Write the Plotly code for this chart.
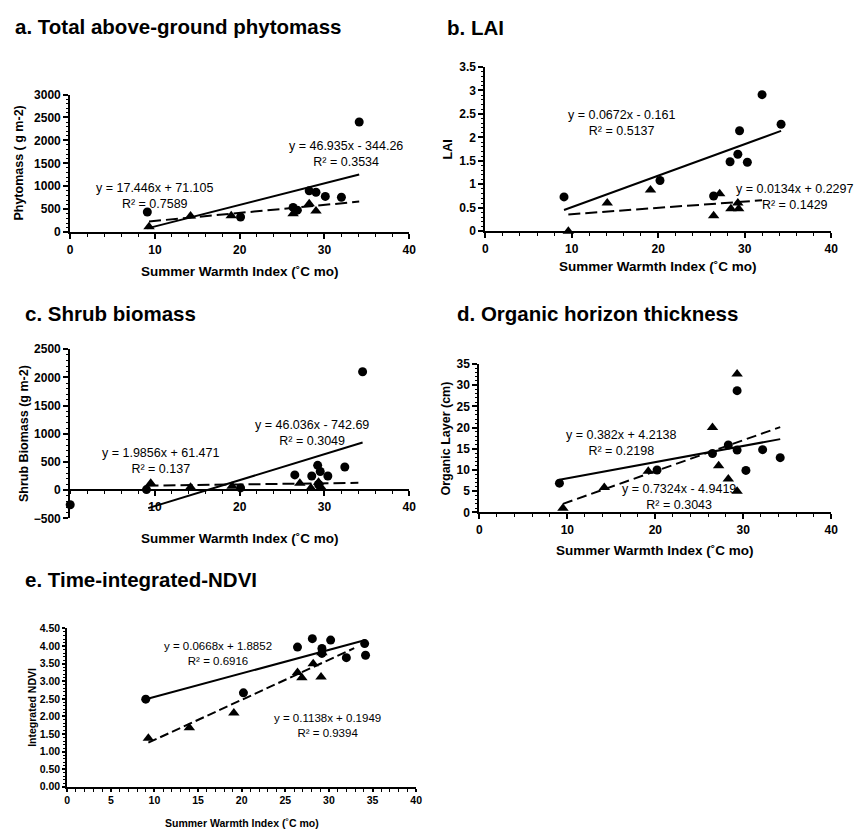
import numpy as np
import plotly.graph_objects as go

# ---------------- data ----------------
# a. Total above-ground phytomass
a_circ_x = [9.1, 20.1, 26.3, 26.8, 28.2, 29.0, 30.1, 32.0, 34.1]
a_circ_y = [440, 330, 540, 480, 900, 870, 780, 760, 2400]
a_tri_x = [9.3, 14.2, 19.0, 26.3, 28.2, 29.0]
a_tri_y = [120, 350, 360, 400, 620, 460]
a_fit_circ = (46.935, -344.26, 9.1, 34.1)
a_fit_tri = (17.446, 71.105, 9.3, 34.1)

# b. LAI
b_circ_x = [9.1, 20.2, 26.4, 28.3, 29.2, 29.4, 30.3, 32.0, 34.2]
b_circ_y = [0.73, 1.08, 0.75, 1.48, 1.64, 2.14, 1.47, 2.91, 2.28]
b_tri_x = [9.6, 14.1, 19.1, 26.4, 27.1, 28.4, 29.2, 29.3]
b_tri_y = [0.0, 0.60, 0.88, 0.33, 0.80, 0.48, 0.60, 0.48]
b_fit_circ = (0.0672, -0.161, 9.1, 34.2)
b_fit_tri = (0.0134, 0.2297, 9.6, 32.0)

# c. Shrub biomass
c_circ_x = [0.0, 9.0, 20.1, 26.5, 28.5, 29.2, 29.5, 29.3, 30.4, 32.4, 34.5]
c_circ_y = [-260, 10, 40, 270, 250, 440, 330, 100, 250, 410, 2100]
c_tri_x = [9.5, 14.2, 19.1, 27.1, 28.4, 29.3, 29.6]
c_tri_y = [120, 50, 70, 120, 40, 140, 50]
c_fit_circ = (46.036, -742.69, 9.2, 34.5)
c_fit_tri = (1.9856, 61.471, 9.0, 34.0)

# d. Organic horizon thickness
d_circ_x = [9.1, 20.2, 26.5, 28.3, 29.3, 29.3, 30.3, 32.2, 34.2]
d_circ_y = [6.9, 10.0, 13.9, 15.9, 14.7, 28.7, 9.9, 14.8, 12.9]
d_tri_x = [9.5, 14.2, 19.2, 26.5, 27.2, 28.3, 29.3, 29.3]
d_tri_y = [1.0, 5.9, 9.7, 20.0, 11.0, 7.9, 5.0, 32.6]
d_fit_circ = (0.382, 4.2138, 9.1, 34.2)
d_fit_tri = (0.7324, -4.9419, 9.5, 34.2)

# e. Time-integrated-NDVI
e_circ_x = [9.0, 20.2, 26.4, 28.1, 29.2, 29.2, 30.2, 32.0, 34.1, 34.2]
e_circ_y = [2.49, 2.67, 3.97, 4.21, 3.93, 3.79, 4.17, 3.67, 4.07, 3.74]
e_tri_x = [9.3, 14.0, 19.1, 26.4, 26.9, 28.2, 29.1, 29.2]
e_tri_y = [1.38, 1.68, 2.10, 3.25, 3.10, 3.50, 3.12, 3.81]
e_fit_circ = (0.0668, 1.8852, 9.0, 34.2)
e_fit_tri = (0.1138, 0.1949, 9.3, 32.9)

titles = ["a. Total above-ground phytomass", "b. LAI", "c. Shrub biomass",
          "d. Organic horizon thickness", "e. Time-integrated-NDVI"]
y_titles = ["Phytomass ( g m-2)", "LAI", "Shrub Biomass (g m-2)",
            "Organic Layer (cm)", "Integrated NDVI"]
x_title = "Summer Warmth Index (˚C mo)"

# equation labels: (text, x, y, anchor)
a_labels = [("y = 46.935x - 344.26<br>R² = 0.3534", 32.5, 1703, "center"),
            ("y = 17.446x + 71.105<br>R² = 0.7589", 10.0, 793, "center")]
b_labels = [("y = 0.0672x - 0.161<br>R² = 0.5137", 15.8, 2.305, "center"),
            ("y = 0.0134x + 0.2297<br>R² = 0.1429", 28.8, 0.725, "left")]
c_labels = [("y = 46.036x - 742.69<br>R² = 0.3049", 28.5, 1007, "center"),
            ("y = 1.9856x + 61.471<br>R² = 0.137", 10.7, 512, "center")]
d_labels = [("y = 0.382x + 4.2138<br>R² = 0.2198", 16.2, 16.25, "center"),
            ("y = 0.7324x - 4.9419<br>R² = 0.3043", 22.7, 3.55, "center")]
e_labels = [("y = 0.0668x + 1.8852<br>R² = 0.6916", 17.3, 3.785, "center"),
            ("y = 0.1138x + 0.1949<br>R² = 0.9394", 29.8, 1.75, "center")]

# ---------------- layout geometry (pixels) ----------------
W, H = 858, 839
FONT = "Liberation Sans, Arial, Helvetica, sans-serif"

def px2x(p):
    return p / W

def px2y(p):
    return 1 - p / H

panels = [
    dict(circ=(a_circ_x, a_circ_y), tri=(a_tri_x, a_tri_y), fits=(a_fit_circ, a_fit_tri), labels=a_labels,
         xd=(68, 411), yd=(89, 229), yr=(0, 3000), ydt=500, ymin=100, xdt=10, xmin=2, fmt=None,
         tfs=12, afs=12.5, tl=5, xts=-39, yts=-51, title_px=(10, 20), dash="12px,5px"),
    dict(circ=(b_circ_x, b_circ_y), tri=(b_tri_x, b_tri_y), fits=(b_fit_circ, b_fit_tri), labels=b_labels,
         xd=(488, 838), yd=(61, 228), yr=(0, 3.5), ydt=0.5, ymin=0.1, xdt=10, xmin=2, fmt=None,
         tfs=12, afs=12.5, tl=5, xts=-35, yts=-37, title_px=(447, 21), dash="12px,5px"),
    dict(circ=(c_circ_x, c_circ_y), tri=(c_tri_x, c_tri_y), fits=(c_fit_circ, c_fit_tri), labels=c_labels,
         xd=(68, 411), yd=(348, 520), yr=(-500, 2500), ydt=500, ymin=100, xdt=10, xmin=2, fmt=None,
         tfs=12, afs=12.5, tl=5, xts=-20, yts=-46, title_px=(20, 312), dash="12px,5px"),
    dict(circ=(d_circ_x, d_circ_y), tri=(d_tri_x, d_tri_y), fits=(d_fit_circ, d_fit_tri), labels=d_labels,
         xd=(482, 838), yd=(363, 514), yr=(0, 35), ydt=5, ymin=1, xdt=10, xmin=2, fmt=None,
         tfs=12, afs=12.5, tl=5, xts=-38, yts=-33, title_px=(457, 312), dash="10px,5px"),
    dict(circ=(e_circ_x, e_circ_y), tri=(e_tri_x, e_tri_y), fits=(e_fit_circ, e_fit_tri), labels=e_labels,
         xd=(65, 418), yd=(632, 793), yr=(0, 4.5), ydt=0.5, ymin=0.1, xdt=5, xmin=1, fmt=".2f",
         tfs=10.5, afs=11.5, tl=3, xts=-36, yts=-36, title_px=(20, 582), dash="9px,4px"),
]

fig = go.Figure()
annotations = []
layout = dict(width=W, height=H, margin=dict(l=0, r=0, t=0, b=0),
              paper_bgcolor="white", plot_bgcolor="white", showlegend=False,
              font=dict(family=FONT, color="black"))

for i, p in enumerate(panels):
    n = "" if i == 0 else str(i + 1)
    xa, ya = "x" + n, "y" + n
    # markers
    fig.add_trace(go.Scatter(x=p["circ"][0], y=p["circ"][1], mode="markers", xaxis=xa, yaxis=ya,
                             marker=dict(symbol="circle", size=9, color="black"), cliponaxis=False))
    fig.add_trace(go.Scatter(x=p["tri"][0], y=p["tri"][1], mode="markers", xaxis=xa, yaxis=ya,
                             marker=dict(symbol="triangle-up", size=10, color="black"), cliponaxis=False))
    # fitted trend lines from the equations
    for k, (m, b, x0, x1) in enumerate(p["fits"]):
        xs = np.array([x0, x1])
        fig.add_trace(go.Scatter(x=xs, y=m * xs + b, mode="lines", xaxis=xa, yaxis=ya,
                                 line=dict(color="black", width=2,
                                           dash="solid" if k == 0 else p["dash"]),
                                 cliponaxis=False))
    xdom = [px2x(p["xd"][0]), px2x(p["xd"][1])]
    ydom = [px2y(p["yd"][1]), px2y(p["yd"][0])]
    tickfont = dict(family=FONT, size=p["tfs"], color="black", weight="bold")
    xax = dict(domain=xdom, range=[0, 40], showgrid=False, zeroline=False, showline=True,
               linecolor="black", linewidth=2, ticks="outside", ticklen=p["tl"], tickwidth=1.5,
               tickcolor="black", dtick=p["xdt"], tick0=0, tickfont=tickfont,
               minor=dict(dtick=p["xmin"], ticks="outside", ticklen=3, tickcolor="black", tickwidth=1),
               anchor=ya, fixedrange=True)
    yax = dict(domain=ydom, range=list(p["yr"]), showgrid=False, zeroline=False, showline=True,
               linecolor="black", linewidth=2, ticks="outside", ticklen=p["tl"], tickwidth=1.5,
               tickcolor="black", dtick=p["ydt"], tick0=0, tickfont=tickfont,
               minor=dict(dtick=p["ymin"], ticks="outside", ticklen=2, tickcolor="black", tickwidth=1),
               anchor=xa, fixedrange=True)
    if p["fmt"]:
        yax["tickformat"] = p["fmt"]
    if i == 2:
        # horizontal axis crosses the vertical axis at y = 0
        y0, y1 = p["yr"]
        frac = (0 - y0) / (y1 - y0)
        xax["anchor"] = "free"
        xax["position"] = ydom[0] + frac * (ydom[1] - ydom[0])
        xax["tickvals"] = [10, 20, 30, 40]
    layout["xaxis" + n] = xax
    layout["yaxis" + n] = yax

    # panel title
    annotations.append(dict(text="<b>" + titles[i] + "</b>", xref="paper", yref="paper",
                            x=px2x(p["title_px"][0]), y=px2y(p["title_px"][1]),
                            xanchor="left", yanchor="middle", showarrow=False,
                            font=dict(family=FONT, size=20.5, color="black")))
    # axis titles
    annotations.append(dict(text="<b>" + x_title + "</b>", xref=xa + " domain", yref=ya + " domain",
                            x=0.5, y=0, yshift=p["xts"], xanchor="center", yanchor="middle",
                            showarrow=False,
                            font=dict(family=FONT, size=13.5 if i < 4 else 10.5, color="black")))
    annotations.append(dict(text="<b>" + y_titles[i] + "</b>", xref=xa + " domain", yref=ya + " domain",
                            x=0, y=0.5, xshift=p["yts"], xanchor="center", yanchor="middle",
                            textangle=-90, showarrow=False,
                            font=dict(family=FONT, size=12.5 if i < 4 else 10.5, color="black")))
    # regression equations
    for (t, lx, ly, anc) in p["labels"]:
        annotations.append(dict(text=t, xref=xa, yref=ya, x=lx, y=ly, xanchor=anc, yanchor="middle",
                                align="center", showarrow=False,
                                font=dict(family=FONT, size=p["afs"], color="black")))

layout["annotations"] = annotations
fig.update_layout(**layout)
fig.write_html("out.html")
